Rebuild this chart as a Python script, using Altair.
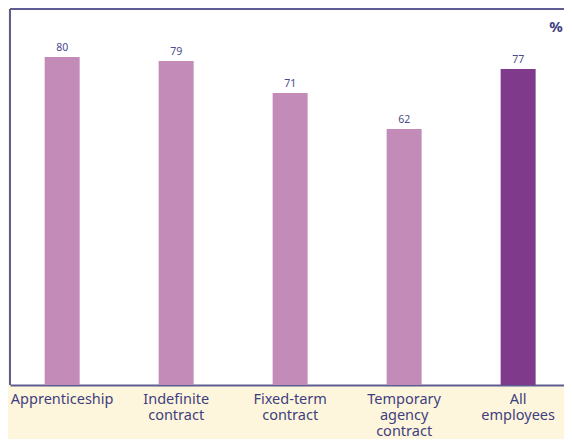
import altair as alt
import pandas as pd

categories = ["Apprenticeship", "Indefinite contract", "Fixed-term contract",
              "Temporary agency contract", "All employees"]
values = [80, 79, 71, 62, 77]
kinds = ["group", "group", "group", "group", "total"]

df = pd.DataFrame({"category": categories, "value": values, "kind": kinds})

W, H = 554, 376
BORDER = "#5d5d93"
TEXT = "#3f3f7f"
FONT = "Noto Sans"

x = alt.X(
    "category:N", sort=categories,
    scale=alt.Scale(paddingInner=0.693, paddingOuter=0.2765, align=0.55),
    axis=alt.Axis(title=None, labelAngle=0, ticks=False, domain=True,
                  domainColor=BORDER, domainWidth=2,
                  labelExpr="split(datum.label, ' ')",
                  labelFont=FONT, labelFontSize=14.5, labelColor=TEXT,
                  labelLineHeight=16, labelPadding=7, labelLimit=0),
)
y = alt.Y("value:Q", stack=None,
          scale=alt.Scale(domain=[-2, 92], nice=False, zero=False), axis=None)

bars = alt.Chart(df).mark_bar().encode(
    x=x, y=y, y2=alt.value(H),
    color=alt.Color("kind:N", scale=alt.Scale(domain=["group", "total"],
                                              range=["#c28bb8", "#7f3a8b"]), legend=None),
)
labels = alt.Chart(df).mark_text(baseline="alphabetic", dy=-6, fontSize=10.5,
                                 font=FONT, color="#4a4a8c").encode(
    x=x, y=y, text="value:Q")

one = pd.DataFrame({"k": [0]})
left = alt.Chart(one).mark_rule(color=BORDER, strokeWidth=2).encode(
    x=alt.value(0), y=alt.value(0), y2=alt.value(H))
top = alt.Chart(one).mark_rule(color=BORDER, strokeWidth=2).encode(
    x=alt.value(0), x2=alt.value(W), y=alt.value(0))
pct = alt.Chart(one).mark_text(text="%", fontSize=15, fontWeight="bold", font=FONT,
                               color=TEXT, align="center", baseline="middle").encode(
    x=alt.value(W - 8), y=alt.value(18))

chart = alt.layer(bars, labels, left, top, pct).properties(
    width=W, height=H,
    autosize=alt.AutoSizeParams(type="none"),
    padding={"left": 2, "top": 1, "right": 0, "bottom": 54},
    background="#fef6dc",
).configure_view(stroke=None, fill="white")

chart.save("out.html", embed_options={"renderer": "svg", "actions": False})
